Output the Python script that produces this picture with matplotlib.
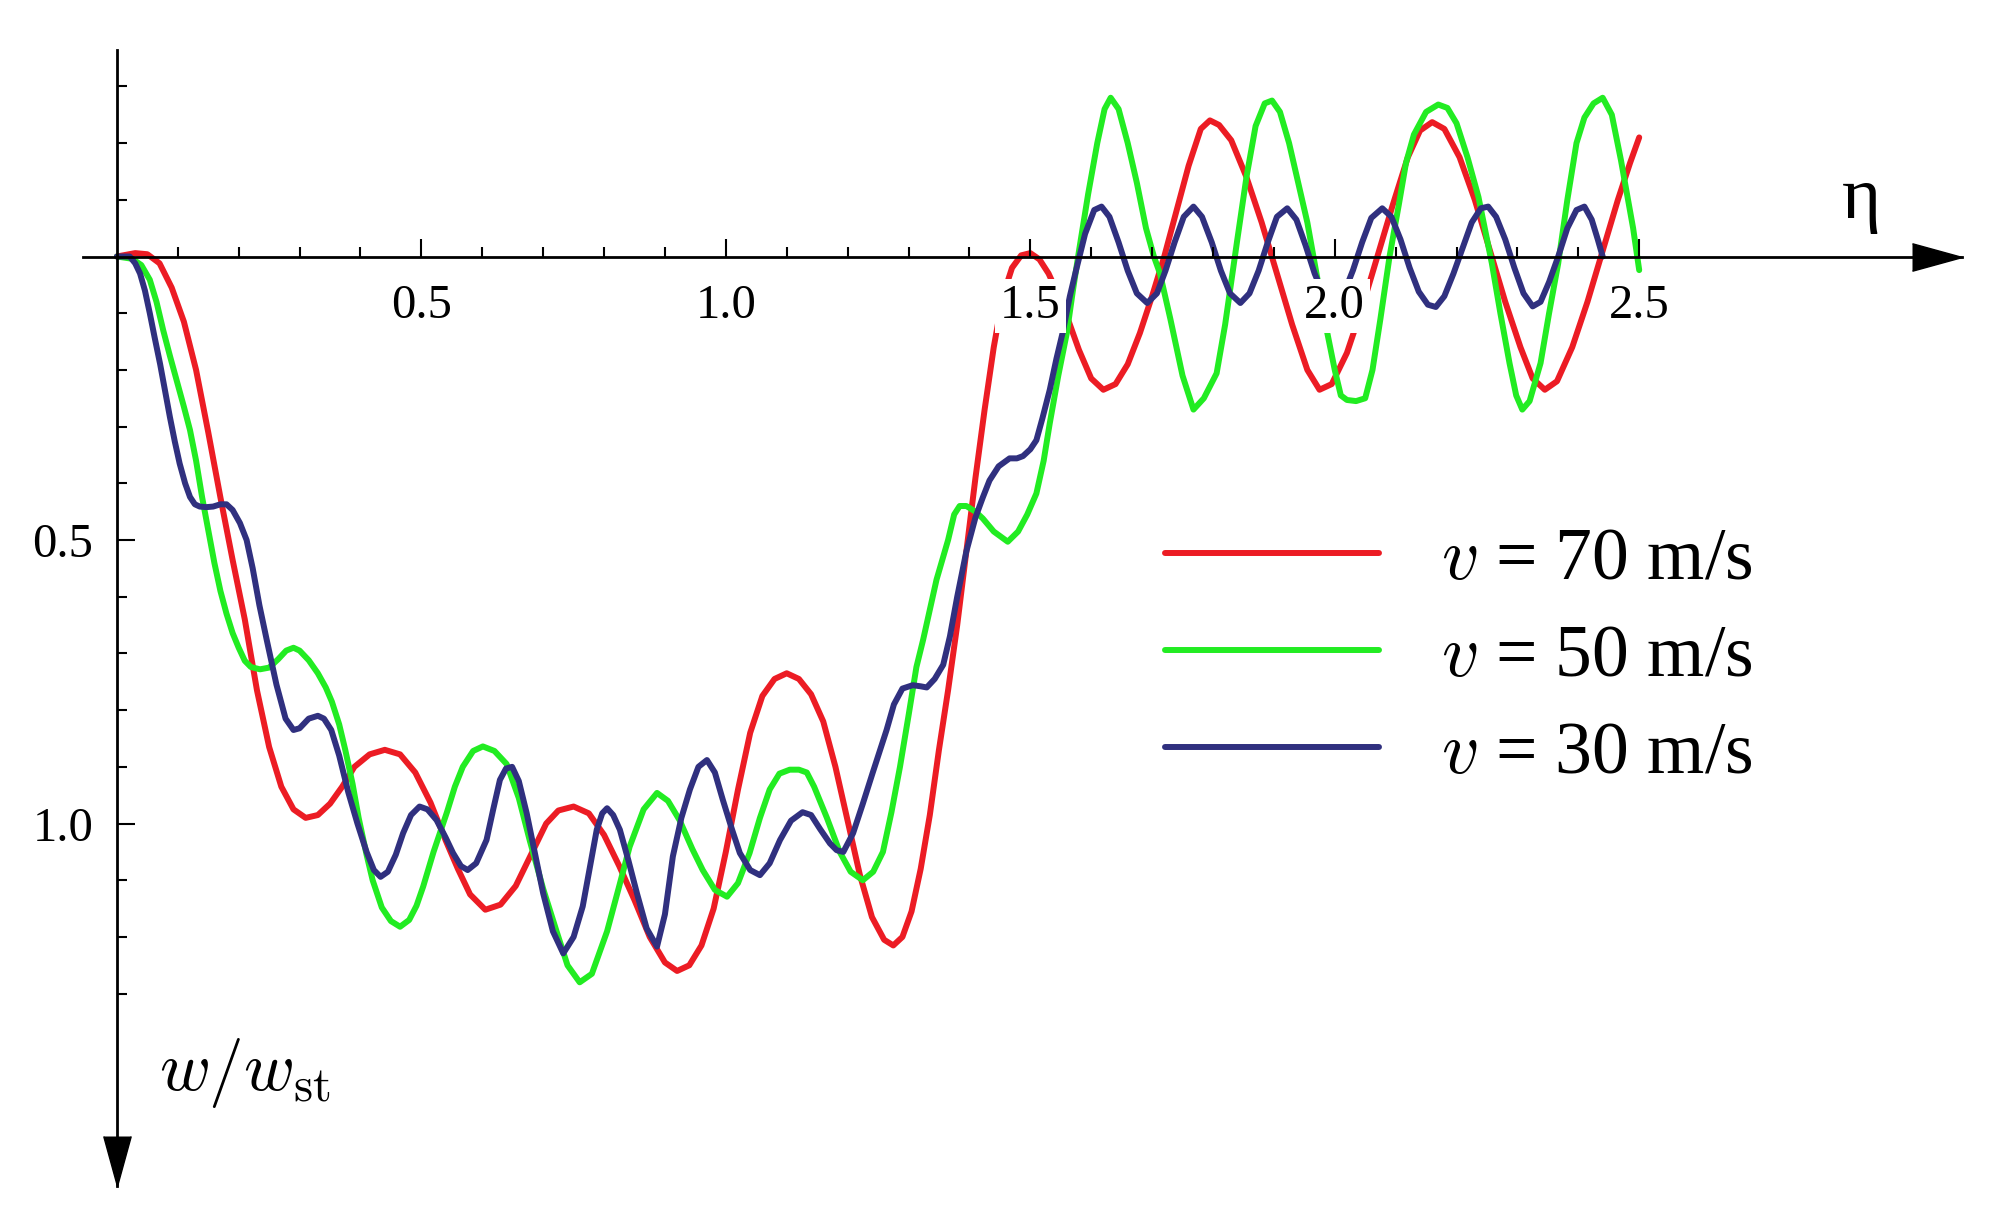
import numpy as np
import matplotlib
matplotlib.use('Agg')
import matplotlib.pyplot as plt

plt.rcParams['font.family'] = 'serif'
plt.rcParams['font.serif'] = ['Liberation Serif', 'DejaVu Serif']
plt.rcParams['mathtext.fontset'] = 'cm'

# deflection w/w_st against eta (positive = downwards)
red_pts = [(0.00, 0.0), (0.03, -0.006), (0.05, -0.004), (0.07, 0.012), (0.09, 0.055), (0.11, 0.115),
           (0.13, 0.2), (0.15, 0.31), (0.17, 0.425), (0.19, 0.535), (0.21, 0.64), (0.23, 0.765),
           (0.25, 0.865), (0.27, 0.935), (0.29, 0.975), (0.31, 0.99), (0.33, 0.985), (0.35, 0.965),
           (0.37, 0.935), (0.39, 0.9), (0.415, 0.878), (0.44, 0.87), (0.465, 0.878), (0.49, 0.91),
           (0.515, 0.963), (0.54, 1.03), (0.56, 1.08), (0.58, 1.125), (0.605, 1.152), (0.63, 1.143),
           (0.655, 1.11), (0.68, 1.055), (0.705, 1.0), (0.725, 0.977), (0.75, 0.97), (0.775, 0.982),
           (0.80, 1.02), (0.825, 1.075), (0.85, 1.135), (0.875, 1.2), (0.90, 1.245), (0.92, 1.26),
           (0.94, 1.25), (0.96, 1.215), (0.98, 1.15), (1.00, 1.05), (1.02, 0.94), (1.04, 0.84),
           (1.06, 0.775), (1.08, 0.745), (1.10, 0.735), (1.12, 0.745), (1.14, 0.772), (1.16, 0.82),
           (1.18, 0.9), (1.20, 0.995), (1.22, 1.09), (1.24, 1.165), (1.26, 1.205), (1.275, 1.215),
           (1.29, 1.2), (1.305, 1.155), (1.32, 1.08), (1.335, 0.985), (1.35, 0.87), (1.365, 0.765),
           (1.38, 0.65), (1.395, 0.52), (1.41, 0.39), (1.425, 0.27), (1.44, 0.16), (1.455, 0.07),
           (1.47, 0.02), (1.485, -0.002), (1.50, -0.006), (1.515, 0.005), (1.53, 0.03), (1.545, 0.065),
           (1.56, 0.105), (1.58, 0.165), (1.60, 0.215), (1.62, 0.235), (1.64, 0.225), (1.66, 0.19),
           (1.68, 0.135), (1.70, 0.07), (1.72, 0.0), (1.74, -0.08), (1.76, -0.16), (1.78, -0.225),
           (1.795, -0.24), (1.81, -0.232), (1.83, -0.205), (1.855, -0.14), (1.88, -0.06), (1.905, 0.03),
           (1.93, 0.12), (1.955, 0.2), (1.975, 0.235), (1.995, 0.225), (2.02, 0.17), (2.045, 0.09),
           (2.07, 0.0), (2.095, -0.09), (2.12, -0.175), (2.14, -0.222), (2.16, -0.237), (2.18, -0.225),
           (2.205, -0.175), (2.23, -0.1), (2.255, -0.01), (2.28, 0.08), (2.305, 0.16), (2.325, 0.215),
           (2.345, 0.235), (2.365, 0.22), (2.39, 0.16), (2.415, 0.08), (2.44, -0.01), (2.465, -0.1),
           (2.485, -0.165), (2.50, -0.21)]

green_pts = [(0.00, 0.0), (0.025, 0.004), (0.04, 0.015), (0.054, 0.041), (0.065, 0.08), (0.076, 0.13),
             (0.087, 0.175), (0.098, 0.218), (0.11, 0.265), (0.12, 0.306), (0.13, 0.36), (0.14, 0.425),
             (0.15, 0.482), (0.16, 0.54), (0.17, 0.59), (0.18, 0.63), (0.19, 0.664), (0.20, 0.69),
             (0.21, 0.713), (0.22, 0.724), (0.235, 0.728), (0.25, 0.725), (0.265, 0.71), (0.278, 0.695),
             (0.29, 0.69), (0.30, 0.695), (0.315, 0.712), (0.33, 0.735), (0.343, 0.76), (0.353, 0.785),
             (0.365, 0.825), (0.375, 0.87), (0.387, 0.93), (0.397, 0.99), (0.41, 1.055), (0.42, 1.1),
             (0.435, 1.148), (0.45, 1.172), (0.465, 1.182), (0.48, 1.17), (0.492, 1.145), (0.503, 1.111),
             (0.52, 1.05), (0.542, 0.98), (0.555, 0.935), (0.568, 0.9), (0.585, 0.872), (0.601, 0.864),
             (0.62, 0.872), (0.64, 0.895), (0.66, 0.955), (0.678, 1.03), (0.70, 1.115), (0.722, 1.19),
             (0.74, 1.25), (0.76, 1.28), (0.78, 1.265), (0.805, 1.19), (0.825, 1.11), (0.842, 1.041),
             (0.865, 0.975), (0.887, 0.946), (0.905, 0.96), (0.924, 0.994), (0.945, 1.045), (0.962, 1.082),
             (0.982, 1.117), (1.002, 1.129), (1.02, 1.105), (1.039, 1.052), (1.056, 0.99), (1.072, 0.94),
             (1.088, 0.912), (1.105, 0.905), (1.12, 0.905), (1.133, 0.91), (1.145, 0.935), (1.166, 0.99),
             (1.187, 1.05), (1.205, 1.085), (1.225, 1.1), (1.242, 1.085), (1.258, 1.05), (1.272, 0.98),
             (1.286, 0.9), (1.30, 0.81), (1.313, 0.724), (1.324, 0.676), (1.346, 0.57), (1.365, 0.5),
             (1.375, 0.455), (1.384, 0.44), (1.395, 0.44), (1.41, 0.45), (1.422, 0.462), (1.44, 0.485),
             (1.463, 0.503), (1.48, 0.485), (1.495, 0.455), (1.51, 0.418), (1.522, 0.36), (1.532, 0.294),
             (1.546, 0.21), (1.56, 0.135), (1.57, 0.06), (1.58, -0.01), (1.595, -0.11), (1.61, -0.2),
             (1.622, -0.26), (1.632, -0.28), (1.645, -0.26), (1.66, -0.2), (1.675, -0.13), (1.69, -0.05),
             (1.703, 0.0), (1.713, 0.03), (1.73, 0.11), (1.75, 0.21), (1.768, 0.27), (1.785, 0.25),
             (1.806, 0.206), (1.82, 0.12), (1.84, -0.03), (1.855, -0.14), (1.87, -0.23), (1.885, -0.27),
             (1.897, -0.275), (1.91, -0.255), (1.925, -0.2), (1.94, -0.13), (1.955, -0.06), (1.97, 0.03),
             (1.985, 0.12), (2.0, 0.2), (2.01, 0.245), (2.02, 0.253), (2.035, 0.255), (2.05, 0.25),
             (2.062, 0.2), (2.075, 0.11), (2.09, 0.0), (2.105, -0.09), (2.117, -0.165), (2.13, -0.215),
             (2.15, -0.255), (2.17, -0.268), (2.185, -0.262), (2.2, -0.235), (2.218, -0.175), (2.236, -0.105),
             (2.258, 0.012), (2.272, 0.1), (2.287, 0.188), (2.298, 0.245), (2.308, 0.27), (2.32, 0.255),
             (2.338, 0.188), (2.352, 0.1), (2.367, 0.012), (2.382, -0.1), (2.397, -0.2), (2.41, -0.245),
             (2.425, -0.27), (2.44, -0.28), (2.455, -0.25), (2.47, -0.17), (2.49, -0.05), (2.50, 0.024)]

blue_pts = [(0.0, 0.0), (0.021, 0.0), (0.03, 0.012), (0.038, 0.03), (0.046, 0.06), (0.054, 0.1),
            (0.062, 0.143), (0.071, 0.19), (0.079, 0.237), (0.087, 0.283), (0.095, 0.326), (0.103, 0.365),
            (0.112, 0.4), (0.12, 0.424), (0.128, 0.437), (0.136, 0.441), (0.147, 0.442), (0.158, 0.441),
            (0.17, 0.437), (0.18, 0.437), (0.19, 0.447), (0.202, 0.47), (0.213, 0.5), (0.223, 0.55),
            (0.234, 0.615), (0.246, 0.676), (0.262, 0.755), (0.277, 0.815), (0.29, 0.835), (0.30, 0.832),
            (0.315, 0.815), (0.33, 0.81), (0.34, 0.815), (0.352, 0.835), (0.365, 0.88), (0.38, 0.945),
            (0.395, 1.0), (0.41, 1.05), (0.422, 1.082), (0.433, 1.094), (0.445, 1.085), (0.458, 1.055),
            (0.47, 1.017), (0.483, 0.985), (0.497, 0.97), (0.51, 0.975), (0.525, 0.994), (0.54, 1.025),
            (0.552, 1.052), (0.565, 1.075), (0.576, 1.082), (0.59, 1.07), (0.607, 1.029), (0.618, 0.975),
            (0.629, 0.923), (0.639, 0.903), (0.649, 0.9), (0.66, 0.925), (0.673, 0.982), (0.686, 1.05),
            (0.70, 1.123), (0.716, 1.19), (0.733, 1.229), (0.75, 1.2), (0.765, 1.146), (0.777, 1.075),
            (0.788, 1.011), (0.797, 0.982), (0.805, 0.973), (0.815, 0.985), (0.826, 1.011), (0.84, 1.065),
            (0.854, 1.123), (0.87, 1.185), (0.887, 1.217), (0.9, 1.16), (0.913, 1.058), (0.927, 0.99),
            (0.941, 0.94), (0.955, 0.9), (0.969, 0.888), (0.982, 0.91), (0.995, 0.958), (1.01, 1.01),
            (1.023, 1.052), (1.04, 1.082), (1.056, 1.091), (1.072, 1.07), (1.089, 1.029), (1.107, 0.995),
            (1.126, 0.98), (1.14, 0.985), (1.155, 1.01), (1.171, 1.035), (1.182, 1.047), (1.193, 1.05),
            (1.209, 1.017), (1.225, 0.965), (1.241, 0.911), (1.264, 0.835), (1.276, 0.79), (1.29, 0.762),
            (1.307, 0.756), (1.32, 0.758), (1.33, 0.76), (1.343, 0.745), (1.357, 0.72), (1.368, 0.67),
            (1.38, 0.6), (1.395, 0.52), (1.41, 0.46), (1.422, 0.425), (1.433, 0.395), (1.448, 0.37),
            (1.466, 0.356), (1.478, 0.356), (1.488, 0.352), (1.50, 0.34), (1.51, 0.324), (1.52, 0.285),
            (1.532, 0.235), (1.543, 0.18), (1.553, 0.135), (1.565, 0.07), (1.575, 0.025), (1.59, -0.04),
            (1.605, -0.082), (1.617, -0.088), (1.63, -0.07), (1.645, -0.025), (1.66, 0.025), (1.675, 0.065),
            (1.692, 0.082), (1.708, 0.065), (1.722, 0.025), (1.737, -0.025), (1.752, -0.07), (1.768, -0.088),
            (1.782, -0.07), (1.798, -0.025), (1.813, 0.025), (1.828, 0.065), (1.845, 0.082), (1.86, 0.065),
            (1.875, 0.025), (1.89, -0.025), (1.905, -0.07), (1.922, -0.085), (1.937, -0.065), (1.952, -0.02),
            (1.967, 0.03), (1.982, 0.068), (2.0, 0.08), (2.015, 0.065), (2.03, 0.024), (2.045, -0.025),
            (2.06, -0.068), (2.078, -0.085), (2.093, -0.07), (2.108, -0.03), (2.123, 0.02), (2.138, 0.062),
            (2.153, 0.085), (2.166, 0.089), (2.18, 0.07), (2.195, 0.03), (2.21, -0.015), (2.225, -0.06),
            (2.24, -0.085), (2.252, -0.088), (2.265, -0.07), (2.28, -0.03), (2.295, 0.02), (2.31, 0.065),
            (2.325, 0.088), (2.338, 0.08), (2.352, 0.045), (2.367, 0.0), (2.382, -0.05), (2.397, -0.082),
            (2.41, -0.088), (2.422, -0.065), (2.432, -0.03), (2.44, 0.0)]

labels = [r'$v$ = 70 m/s', r'$v$ = 50 m/s', r'$v$ = 30 m/s']
colors = ['#ec1c24', '#22ec22', '#30307f']
series = [red_pts, green_pts, blue_pts]

x_major = [0.5, 1.0, 1.5, 2.0, 2.5]
x_minor = [0.1, 0.2, 0.3, 0.4, 0.6, 0.7, 0.8, 0.9, 1.1, 1.2, 1.3, 1.4,
           1.6, 1.7, 1.8, 1.9, 2.1, 2.2, 2.3, 2.4]
y_major = [0.5, 1.0]
y_minor = [-0.3, -0.2, -0.1, 0.1, 0.2, 0.3, 0.4, 0.6, 0.7, 0.8, 0.9, 1.1, 1.2, 1.3]

fig = plt.figure(figsize=(19.91, 12.2), dpi=100)
ax = fig.add_axes([0.0419, 0.0275, 0.9435, 0.9319])

lines = []
for pts, col, lab in zip(series, colors, labels):
    xs, ys = zip(*pts)
    ln, = ax.plot(xs, ys, color=col, lw=4.3, label=lab, solid_joinstyle='round',
                  solid_capstyle='round', zorder=2)
    lines.append(ln)

ax.set_xlim(-0.055, 3.03)
ax.set_ylim(1.64, -0.365)

# axes through the origin, with arrow heads
for s in ['top', 'right']:
    ax.spines[s].set_visible(False)
ax.spines['bottom'].set_position(('data', 0))
ax.spines['left'].set_position(('data', 0))
ax.spines['bottom'].set_linewidth(2.0)
ax.spines['left'].set_linewidth(2.0)
ax.set_axisbelow(False)

head_r = [(-2, -0.55), (0, 0), (-2, 0.55)]
head_d = [(-0.55, 2), (0, 0), (0.55, 2)]
ax.plot(1, 0, marker=head_r, markersize=72, color='black', mec='black',
        transform=ax.get_yaxis_transform(), clip_on=False, zorder=5)
ax.plot(0, 0, marker=head_d, markersize=72, color='black', mec='black',
        transform=ax.get_xaxis_transform(), clip_on=False, zorder=5)

ax.set_xticks(x_major)
ax.set_xticks(x_minor, minor=True)
ax.set_yticks(y_major)
ax.set_yticks(y_minor, minor=True)
ax.set_xticklabels(['0.5', '1.0', '1.5', '2.0', '2.5'])
ax.set_yticklabels(['0.5', '1.0'])
ax.tick_params(axis='both', which='major', direction='in', length=13, width=1.5,
               labelsize=35)
ax.tick_params(axis='x', which='major', pad=20)
ax.tick_params(axis='y', which='major', pad=17)
ax.tick_params(axis='both', which='minor', direction='in', length=7, width=1.5)
for t in ax.get_xticklabels():
    t.set_bbox(dict(facecolor='white', edgecolor='none', boxstyle='square,pad=0.1'))

ax.text(2.865, -0.1, 'η', fontsize=54, ha='center', va='center')
ax.text(0.21, 1.44, r'$w/w_{\rm st}$', fontsize=50, ha='center', va='center')

ax.legend(handles=lines, loc='upper left', bbox_to_anchor=(0.576, 0.58), frameon=False,
          fontsize=53, handlelength=2.9, handletextpad=0.85, labelspacing=0.4,
          borderpad=0, borderaxespad=0)

fig.savefig('out.png', dpi=100)
